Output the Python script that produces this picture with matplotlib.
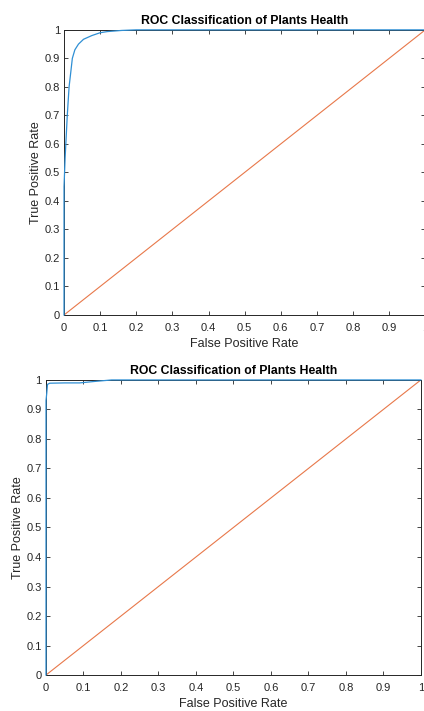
import matplotlib
matplotlib.use("Agg")
import matplotlib.pyplot as plt
from matplotlib.ticker import FuncFormatter

plt.rcParams['font.family'] = ['Liberation Sans', 'DejaVu Sans']

fpr_top = [0.0, 0.0, 0.0, 0.003, 0.005, 0.009, 0.014, 0.019, 0.023, 0.030,
           0.040, 0.054, 0.077, 0.100, 0.120, 0.160, 0.200, 1.0]
tpr_top = [0.0, 0.18, 0.45, 0.55, 0.60, 0.70, 0.80, 0.855, 0.90, 0.93,
           0.95, 0.967, 0.98, 0.99, 0.994, 0.998, 1.0, 1.0]

fpr_bot = [0.0, 0.0, 0.0, 0.002, 0.004, 0.010, 0.050, 0.090, 0.130, 0.175, 1.0]
tpr_bot = [0.0, 0.50, 0.93, 0.955, 0.985, 0.989, 0.990, 0.990, 0.995, 1.0, 1.0]

# chance line
chance_x = [0, 1]
chance_y = [0, 1]

title = "ROC Classification of Plants Health"
xlabel = "False Positive Rate"
ylabel = "True Positive Rate"
ticks = [i / 10 for i in range(11)]

blue = '#2f8fd4'
orange = '#e8784a'
axcol = '#262626'


def fmt(val, pos):
    if abs(val) < 1e-9:
        return "0"
    if abs(val - 1) < 1e-9:
        return "1"
    return "%.1f" % val


def style_axes(ax):
    ax.set_xlim(0, 1)
    ax.set_ylim(0, 1)
    ax.set_xticks(ticks)
    ax.set_yticks(ticks)
    ax.xaxis.set_major_formatter(FuncFormatter(fmt))
    ax.yaxis.set_major_formatter(FuncFormatter(fmt))
    ax.tick_params(direction='in', length=3, width=0.6, colors=axcol,
                   labelsize=8, top=True, right=True)
    ax.tick_params(axis='x', pad=6)
    ax.tick_params(axis='y', pad=3)
    for s in ax.spines.values():
        s.set_color(axcol)
        s.set_linewidth(0.7)
    ax.set_title(title, fontsize=8.8, fontweight='bold', pad=4)
    ax.set_xlabel(xlabel, fontsize=9, color=axcol, labelpad=3.5)
    ax.set_ylabel(ylabel, fontsize=9, color=axcol, labelpad=1.5)


fig = plt.figure(figsize=(4.24, 7.11), dpi=100)

ax1 = fig.add_axes([0.151, 0.557, 0.852, 0.401])
ax1.plot(fpr_top, tpr_top, color=blue, linewidth=0.9, clip_on=False, zorder=3)
ax1.plot(chance_x, chance_y, color=orange, linewidth=0.8, zorder=2)
style_axes(ax1)

ax2 = fig.add_axes([0.1085, 0.0506, 0.884, 0.415])
ax2.plot(fpr_bot, tpr_bot, color=blue, linewidth=0.9, clip_on=False, zorder=3)
ax2.plot(chance_x, chance_y, color=orange, linewidth=0.8, zorder=2)
style_axes(ax2)

fig.savefig("out.png", dpi=100)
